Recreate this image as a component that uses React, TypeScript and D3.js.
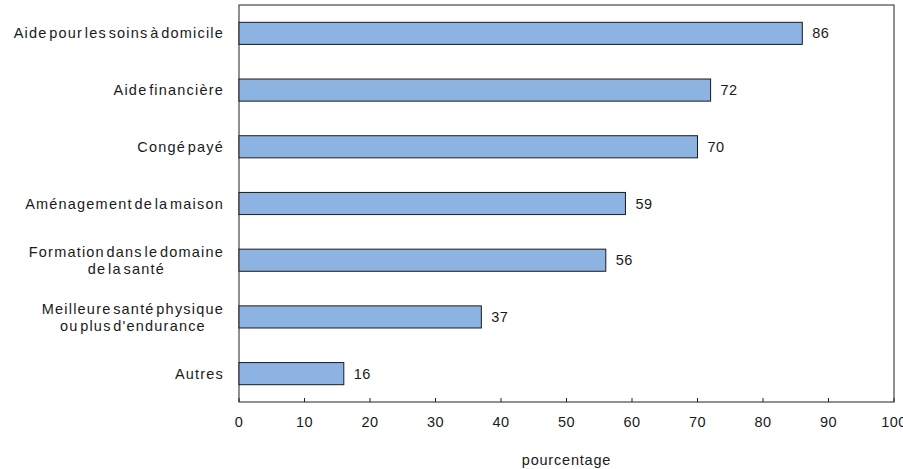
import React, { useEffect, useRef } from "react";
import * as d3 from "d3";

const categories: string[][] = [
  ["Aide pour les soins à domicile"],
  ["Aide financière"],
  ["Congé payé"],
  ["Aménagement de la maison"],
  ["Formation dans le domaine", "de la santé"],
  ["Meilleure santé physique", "ou plus d'endurance"],
  ["Autres"],
];
const values: number[] = [86, 72, 70, 59, 56, 37, 16];
const xTicks: number[] = [0, 10, 20, 30, 40, 50, 60, 70, 80, 90, 100];
const xTitle = "pourcentage";

const W = 903;
const H = 469;
const m = { left: 239, right: 894, top: 5, bottom: 402 };
const FONT = "Liberation Sans, Arial, sans-serif";
const FS = 14.5;

export default function App() {
  const ref = useRef<SVGSVGElement>(null);
  useEffect(() => {
    const svg = d3.select(ref.current!);
    svg.selectAll("*").remove();
    const x = d3.scaleLinear().domain([0, 100]).range([m.left, m.right]);
    const y = d3
      .scaleBand<number>()
      .domain(values.map((_, i) => i))
      .range([m.top, m.bottom])
      .paddingInner(0.61)
      .paddingOuter(0.305);

    svg
      .append("rect")
      .attr("x", m.left)
      .attr("y", m.top)
      .attr("width", m.right - m.left)
      .attr("height", m.bottom - m.top)
      .attr("fill", "none")
      .attr("stroke", "#222");

    const txt = (g: any, ls = 1.2) =>
      g
        .attr("font-size", FS)
        .attr("letter-spacing", ls)
        .attr("word-spacing", -3.5)
        .attr("fill", "#1a1a1a");

    values.forEach((v, i) => {
      const yy = y(i)!;
      const bw = y.bandwidth();
      const cy = yy + bw / 2;
      svg
        .append("rect")
        .attr("x", x(0))
        .attr("y", yy)
        .attr("width", x(v) - x(0))
        .attr("height", bw)
        .attr("fill", "#8DB3E2")
        .attr("stroke", "#1a1a1a");
      svg
        .append("text")
        .call(txt, 0.4)
        .attr("x", x(v) + 10)
        .attr("y", cy)
        .attr("dy", "0.35em")
        .text(v);

      const lines = categories[i];
      const g = svg.append("g");
      const nodes = lines.map((ln, k) =>
        g
          .append("text")
          .call(txt)
          .attr("y", cy + (k - (lines.length - 1) / 2) * 17)
          .attr("dy", "0.35em")
          .attr("text-anchor", "middle")
          .text(ln)
      );
      const maxW = d3.max(nodes, (n) => (n.node() as SVGTextElement).getBBox().width) || 0;
      nodes.forEach((n) => n.attr("x", m.left - 15 - maxW / 2));
    });

    xTicks.forEach((t) => {
      svg
        .append("line")
        .attr("x1", x(t))
        .attr("x2", x(t))
        .attr("y1", m.bottom)
        .attr("y2", m.bottom - 4)
        .attr("stroke", "#222");
      svg
        .append("text")
        .call(txt, 0.4)
        .attr("x", x(t))
        .attr("y", 422)
        .attr("dy", "0.35em")
        .attr("text-anchor", "middle")
        .text(t);
    });

    svg
      .append("text")
      .call(txt, 0.8)
      .attr("x", (m.left + m.right) / 2)
      .attr("y", 460)
      .attr("dy", "0.35em")
      .attr("text-anchor", "middle")
      .text(xTitle);
  }, []);
  return (
    <svg
      ref={ref}
      width={W}
      height={H}
      style={{ position: "absolute", left: 0, top: 0, background: "#fff" }}
      fontFamily={FONT}
    />
  );
}
